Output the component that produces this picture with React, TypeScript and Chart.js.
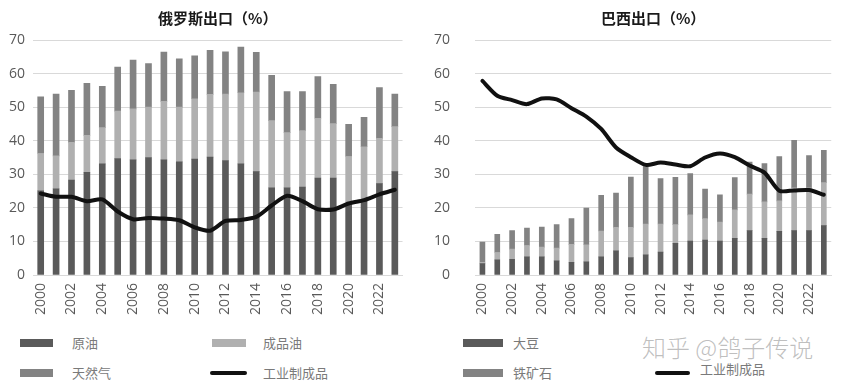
import React, { useEffect, useRef } from 'react';
import { Chart, registerables } from 'chart.js';

Chart.register(...registerables);

// ---------- data ----------
const years = ['2000','2001','2002','2003','2004','2005','2006','2007','2008','2009','2010','2011','2012','2013','2014','2015','2016','2017','2018','2019','2020','2021','2022','2023'];

// Russia (%)
const ruCrude = [25.1, 25.7, 28.3, 30.6, 33.1, 34.7, 34.3, 35.0, 34.3, 33.7, 34.5, 35.1, 34.1, 33.1, 30.8, 26.0, 26.0, 26.2, 28.9, 28.9, 21.3, 22.5, 27.2, 30.8];
const ruProducts = [11.1, 9.8, 11.2, 11.0, 10.8, 14.1, 15.2, 15.0, 17.4, 16.3, 18.0, 18.7, 19.8, 21.2, 23.7, 20.0, 16.4, 16.8, 17.8, 16.2, 14.0, 15.7, 13.5, 13.4];
const ruGas = [16.9, 18.4, 15.5, 15.5, 12.3, 13.1, 14.5, 13.0, 14.7, 14.4, 12.8, 13.1, 12.6, 13.6, 11.8, 13.5, 12.2, 11.6, 12.4, 11.7, 9.6, 8.8, 15.1, 9.7];
const ruManufactured = [24.3, 23.3, 23.3, 22.0, 22.5, 18.9, 16.6, 17.0, 16.8, 16.3, 14.2, 13.2, 16.1, 16.4, 17.3, 20.7, 23.6, 22.0, 19.6, 19.5, 21.3, 22.3, 24.0, 25.4];

// Brazil (%)
const brSoy = [3.4, 4.5, 4.7, 5.4, 5.4, 4.2, 3.8, 3.9, 5.4, 7.2, 5.2, 6.0, 6.8, 9.4, 10.1, 10.4, 10.1, 10.9, 13.2, 10.9, 13.0, 13.2, 13.2, 14.7];
const brOil = [0.4, 2.2, 3.0, 3.4, 2.9, 3.8, 5.3, 5.1, 7.7, 7.0, 9.0, 9.2, 8.4, 5.6, 7.8, 6.4, 5.7, 8.5, 10.9, 10.9, 9.1, 12.8, 12.8, 12.8];
const brIronOre = [6.0, 5.4, 5.5, 5.2, 6.0, 7.0, 7.7, 10.9, 10.6, 10.2, 15.0, 17.1, 13.5, 14.1, 12.3, 8.8, 8.1, 9.6, 9.5, 11.4, 13.2, 14.1, 9.6, 9.6];
const brManufactured = [57.8, 53.4, 52.1, 50.9, 52.6, 52.3, 49.7, 47.2, 43.5, 38.0, 35.1, 32.8, 33.5, 32.9, 32.4, 35.0, 36.2, 35.1, 32.6, 30.5, 25.1, 25.2, 25.3, 23.9];

const yTicks = [0, 10, 20, 30, 40, 50, 60, 70];

// ---------- styles ----------
const DARK = '#5a5a5a';
const LIGHT = '#b0b0b0';
const MID = '#838383';
const LINE = '#111111';
const TICK_FONT = "'Open Sans', 'Noto Sans', sans-serif";
const CJK_FONT = "'Noto Sans CJK SC', 'Noto Sans', sans-serif";

function makeConfig(opts: {
  title: string;
  bars: { label: string; data: number[]; color: string }[];
  line: { label: string; data: number[] };
  barThickness: number;
  yWidth: number;
  yPad: number;
  padRight: number;
}): any {
  const datasets: any[] = opts.bars.map((b) => ({
    type: 'bar',
    label: b.label,
    data: b.data,
    backgroundColor: b.color,
    borderWidth: 0,
    barThickness: opts.barThickness,
    stack: 'bars',
    order: 1,
  }));
  datasets.push({
    type: 'line',
    label: opts.line.label,
    data: opts.line.data,
    borderColor: LINE,
    borderWidth: 4,
    pointRadius: 0,
    tension: 0.25,
    borderCapStyle: 'round',
    borderJoinStyle: 'round',
    stack: 'line',
    order: 0,
  });
  return {
    type: 'bar',
    data: { labels: years, datasets },
    options: {
      animation: false,
      responsive: false,
      maintainAspectRatio: false,
      layout: { padding: { left: 0, right: opts.padRight, top: 0, bottom: 0 } },
      plugins: {
        legend: { display: false },
        tooltip: { enabled: false },
        title: {
          display: true,
          text: opts.title,
          fullSize: false,
          color: '#1a1a1a',
          font: { family: CJK_FONT, size: 15, weight: 'bold', lineHeight: 1.2 },
          padding: { top: 9, bottom: 13 },
        },
      },
      scales: {
        x: {
          stacked: true,
          offset: true,
          grid: { display: false, drawTicks: false },
          border: { display: true, color: '#d9d9d9', width: 1 },
          ticks: {
            autoSkip: false,
            minRotation: 90,
            maxRotation: 90,
            padding: 8,
            color: '#595959',
            font: { family: TICK_FONT, size: 14 },
            callback: (_v: any, i: number) => (i % 2 === 0 ? years[i] : ''),
          },
          afterFit: (scale: any) => {
            scale.height = 47;
          },
        },
        y: {
          stacked: true,
          min: yTicks[0],
          max: yTicks[yTicks.length - 1],
          afterBuildTicks: (scale: any) => {
            scale.ticks = yTicks.map((v) => ({ value: v }));
          },
          grid: { color: '#d9d9d9', lineWidth: 1, drawTicks: false },
          border: { display: false },
          ticks: {
            padding: opts.yPad,
            color: '#595959',
            font: { family: TICK_FONT, size: 14 },
          },
          afterFit: (scale: any) => {
            scale.width = opts.yWidth;
          },
        },
      },
    },
  };
}

function ChartCanvas(props: { config: any; left: number; width: number; height: number }) {
  const ref = useRef<HTMLCanvasElement | null>(null);
  useEffect(() => {
    if (!ref.current) return;
    const chart = new Chart(ref.current, props.config);
    return () => chart.destroy();
  }, []);
  return (
    <canvas
      ref={ref}
      width={props.width}
      height={props.height}
      style={{ position: 'absolute', left: props.left, top: 0, width: props.width, height: props.height }}
    />
  );
}

function LegendItem(props: { x: number; y: number; kind: 'box' | 'line'; color: string; w: number; textX: number; text: string; textY?: number }) {
  const h = props.kind === 'box' ? 8 : 4;
  const ty = props.textY ?? props.y;
  return (
    <>
      <div
        style={{
          position: 'absolute',
          left: props.x,
          top: props.y - h / 2,
          width: props.w,
          height: h,
          background: props.color,
          borderRadius: props.kind === 'line' ? 2 : 0,
        }}
      />
      <div
        style={{
          position: 'absolute',
          left: props.textX,
          top: ty - 10,
          height: 20,
          lineHeight: '20px',
          fontSize: 13,
          fontFamily: CJK_FONT,
          color: '#7a7a7a',
          whiteSpace: 'nowrap',
        }}
      >
        {props.text}
      </div>
    </>
  );
}

export default function App() {
  const ruConfig = makeConfig({
    title: '俄罗斯出口（%）',
    bars: [
      { label: '原油', data: ruCrude, color: DARK },
      { label: '成品油', data: ruProducts, color: LIGHT },
      { label: '天然气', data: ruGas, color: MID },
    ],
    line: { label: '工业制成品', data: ruManufactured },
    barThickness: 6,
    yWidth: 33,
    yPad: 8,
    padRight: 17,
  });
  const brConfig = makeConfig({
    title: '巴西出口（%）',
    bars: [
      { label: '大豆', data: brSoy, color: DARK },
      { label: '原油', data: brOil, color: LIGHT },
      { label: '铁矿石', data: brIronOre, color: MID },
    ],
    line: { label: '工业制成品', data: brManufactured },
    barThickness: 5,
    yWidth: 47,
    yPad: 25,
    padRight: 6,
  });

  return (
    <div style={{ position: 'absolute', left: 0, top: 0, width: 849, height: 383, background: '#ffffff', overflow: 'hidden' }}>
      <ChartCanvas config={ruConfig} left={0} width={420} height={322} />
      <ChartCanvas config={brConfig} left={428} width={421} height={322} />

      <LegendItem x={20} y={343} kind="box" color={DARK} w={33} textX={72} text="原油" />
      <LegendItem x={212} y={343} kind="box" color={LIGHT} w={34} textX={263} text="成品油" />
      <LegendItem x={20} y={373} kind="box" color={MID} w={33} textX={72} text="天然气" />
      <LegendItem x={210} y={373} kind="line" color={LINE} w={37} textX={263} text="工业制成品" />

      <LegendItem x={463} y={343} kind="box" color={DARK} w={40} textX={513} text="大豆" />
      <LegendItem x={463} y={373} kind="box" color={MID} w={40} textX={513} text="铁矿石" />
      <LegendItem x={655} y={373} kind="line" color={LINE} w={35} textX={700} textY={369} text="工业制成品" />

      <div
        style={{
          position: 'absolute',
          left: 642,
          top: 332,
          fontSize: 24,
          lineHeight: '30px',
          fontFamily: CJK_FONT,
          fontWeight: 300,
          color: 'rgba(170,170,170,0.75)',
          whiteSpace: 'nowrap',
        }}
      >
        知乎 @鸽子传说
      </div>
    </div>
  );
}
